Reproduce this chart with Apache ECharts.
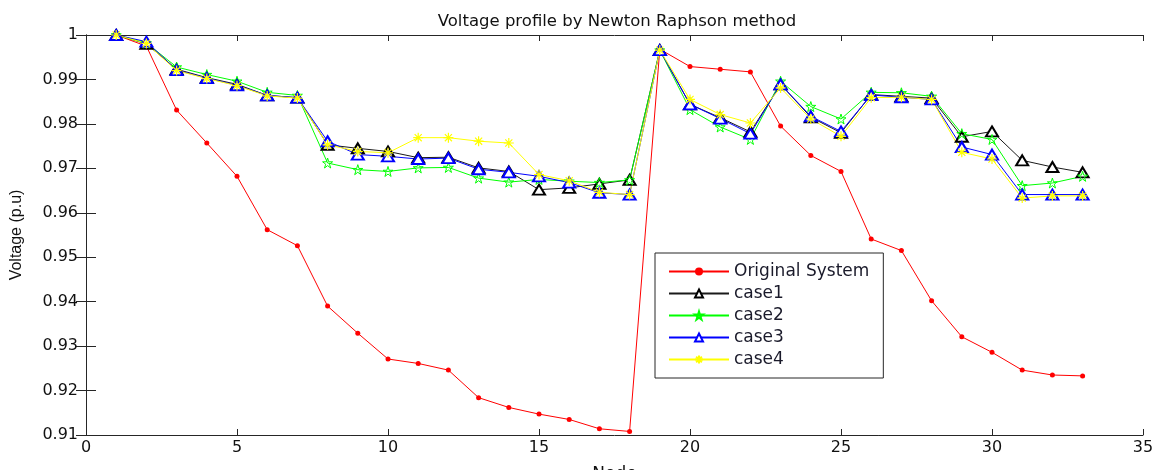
<!DOCTYPE html>
<html>
<head>
<meta charset="utf-8">
<script src="https://cdn.jsdelivr.net/npm/echarts@6/dist/echarts.min.js"></script>
<style>html,body{margin:0;padding:0;background:#fff;}#c{width:1156px;height:470px;}</style>
</head>
<body>
<div id="c"></div>
<script>
const nodes = [1,2,3,4,5,6,7,8,9,10,11,12,13,14,15,16,17,18,19,20,21,22,23,24,25,26,27,28,29,30,31,32,33];
const original = [1.0000, 0.9975, 0.9831, 0.9757, 0.9682, 0.9562, 0.9526, 0.9390, 0.9329, 0.9271, 0.9261, 0.9246, 0.9184, 0.9162, 0.9147, 0.9135, 0.9114, 0.9108, 0.9968, 0.9929, 0.9923, 0.9917, 0.9795, 0.9729, 0.9693, 0.9541, 0.9515, 0.9402, 0.9321, 0.9286, 0.9246, 0.9235, 0.9233];
const case1 = [1.0000, 0.9980, 0.9923, 0.9904, 0.9889, 0.9864, 0.9859, 0.9753, 0.9745, 0.9738, 0.9724, 0.9725, 0.9701, 0.9693, 0.9652, 0.9656, 0.9665, 0.9674, 0.9966, 0.9844, 0.9814, 0.9782, 0.9889, 0.9815, 0.9780, 0.9866, 0.9862, 0.9858, 0.9771, 0.9783, 0.9718, 0.9703, 0.9691];
const case2 = [1.0000, 0.9982, 0.9928, 0.9911, 0.9896, 0.9871, 0.9864, 0.9712, 0.9697, 0.9693, 0.9701, 0.9702, 0.9678, 0.9669, 0.9675, 0.9671, 0.9668, 0.9674, 0.9966, 0.9832, 0.9793, 0.9765, 0.9896, 0.9839, 0.9811, 0.9871, 0.9870, 0.9862, 0.9778, 0.9765, 0.9661, 0.9667, 0.9682];
const case3 = [1.0000, 0.9985, 0.9921, 0.9903, 0.9887, 0.9864, 0.9859, 0.9761, 0.9731, 0.9727, 0.9721, 0.9723, 0.9698, 0.9691, 0.9682, 0.9668, 0.9645, 0.9641, 0.9966, 0.9844, 0.9812, 0.9778, 0.9889, 0.9817, 0.9783, 0.9865, 0.9860, 0.9855, 0.9748, 0.9731, 0.9641, 0.9641, 0.9641];
const case4 = [1.0000, 0.9981, 0.9920, 0.9902, 0.9886, 0.9863, 0.9858, 0.9753, 0.9738, 0.9735, 0.9769, 0.9769, 0.9761, 0.9757, 0.9686, 0.9672, 0.9646, 0.9641, 0.9966, 0.9855, 0.9821, 0.9802, 0.9881, 0.9811, 0.9772, 0.9859, 0.9860, 0.9855, 0.9736, 0.9721, 0.9633, 0.9638, 0.9638];
const seriesNames = ['Original System', 'case1', 'case2', 'case3', 'case4'];

const WIDE = '"DejaVu Sans", Verdana, sans-serif';
const NARROW = '"Liberation Sans", Arial, sans-serif';
const pair = arr => nodes.map((n, i) => [n, arr[i]]);
const star5 = 'path://M0,-100L22,-31L95,-31L36,12L59,81L0,38L-59,81L-36,12L-95,-31L-22,-31Z';
const aster = 'path://M0,-100L0,100M-100,0L100,0M-71,-71L71,71M-71,71L71,-71';

const chart = echarts.init(document.getElementById('c'), null, {renderer: 'canvas'});
const axisLineStyle = {color: '#262626', width: 1};
const option = {
  animation: false,
  backgroundColor: '#fff',
  title: {
    text: 'Voltage profile by Newton Raphson method',
    left: 612, top: 8, textAlign: 'center',
    textStyle: {fontFamily: WIDE, fontSize: 16.5, fontWeight: 'normal', color: '#111'}
  },
  grid: {left: 86, right: 13, top: 35, bottom: 35, containLabel: false, outerBoundsMode: 'none'},
  legend: {
    orient: 'vertical', left: 655, top: 253,
    data: seriesNames,
    itemWidth: 60, itemHeight: 10, itemGap: 5,
    padding: [10, 14, 10, 13],
    borderColor: '#262626', borderWidth: 1, backgroundColor: '#fff',
    textStyle: {fontFamily: WIDE, fontSize: 17, color: '#1a1a2a', lineHeight: 17}
  },
  xAxis: [{
    type: 'value', min: 0, max: 35, interval: 5, position: 'bottom',
    name: 'Node', nameLocation: 'middle', nameGap: 31,
    nameTextStyle: {fontFamily: WIDE, fontSize: 17, color: '#111'},
    axisLine: {show: true, lineStyle: axisLineStyle},
    axisTick: {show: true, inside: true, length: 6, lineStyle: axisLineStyle},
    axisLabel: {fontFamily: WIDE, fontSize: 16, color: '#111', margin: 5},
    splitLine: {show: false}
  }, {
    type: 'value', min: 0, max: 35, interval: 5, position: 'top',
    axisLine: {show: true, lineStyle: axisLineStyle},
    axisTick: {show: true, inside: true, length: 6, lineStyle: axisLineStyle},
    axisLabel: {show: false}, splitLine: {show: false}
  }],
  yAxis: [{
    type: 'value', min: 0.91, max: 1, interval: 0.01, position: 'left',
    name: 'Voltage (p.u)', nameLocation: 'middle', nameGap: 61,
    nameTextStyle: {fontFamily: NARROW, fontSize: 16, color: '#111'},
    axisLine: {show: true, lineStyle: axisLineStyle},
    axisTick: {show: true, inside: true, length: 10, lineStyle: axisLineStyle},
    axisLabel: {fontFamily: WIDE, fontSize: 16, color: '#111', margin: 8,
      formatter: v => String(+v.toFixed(2))},
    splitLine: {show: false}
  }, {
    type: 'value', min: 0.91, max: 1, interval: 0.01, position: 'right',
    axisLine: {show: true, lineStyle: axisLineStyle},
    axisTick: {show: true, inside: true, length: 10, lineStyle: axisLineStyle},
    axisLabel: {show: false}, splitLine: {show: false}
  }],
  series: [
    {name: seriesNames[0], type: 'line', data: pair(original), symbol: 'circle', symbolSize: 5,
     lineStyle: {color: '#ff0000', width: 1}, itemStyle: {color: '#ff0000'}},
    {name: seriesNames[1], type: 'line', data: pair(case1), symbol: 'emptyTriangle', symbolSize: [12, 10],
     lineStyle: {color: '#1a1a1a', width: 1}, itemStyle: {color: '#000', borderColor: '#000', borderWidth: 1}},
    {name: seriesNames[2], type: 'line', data: pair(case2), symbol: star5, symbolSize: 10,
     lineStyle: {color: '#00ff00', width: 1}, itemStyle: {color: 'rgba(0,0,0,0)', borderColor: '#00ff00', borderWidth: 1}},
    {name: seriesNames[3], type: 'line', data: pair(case3), symbol: 'emptyTriangle', symbolSize: [12, 10],
     lineStyle: {color: '#0000ff', width: 1}, itemStyle: {color: '#0000ff', borderColor: '#0000ff', borderWidth: 1}},
    {name: seriesNames[4], type: 'line', data: pair(case4), symbol: aster, symbolSize: 10,
     lineStyle: {color: '#ffff00', width: 1}, itemStyle: {color: '#ffff00', borderColor: '#ffff00', borderWidth: 1.2}}
  ]
};
chart.setOption(option);
</script>
</body>
</html>
